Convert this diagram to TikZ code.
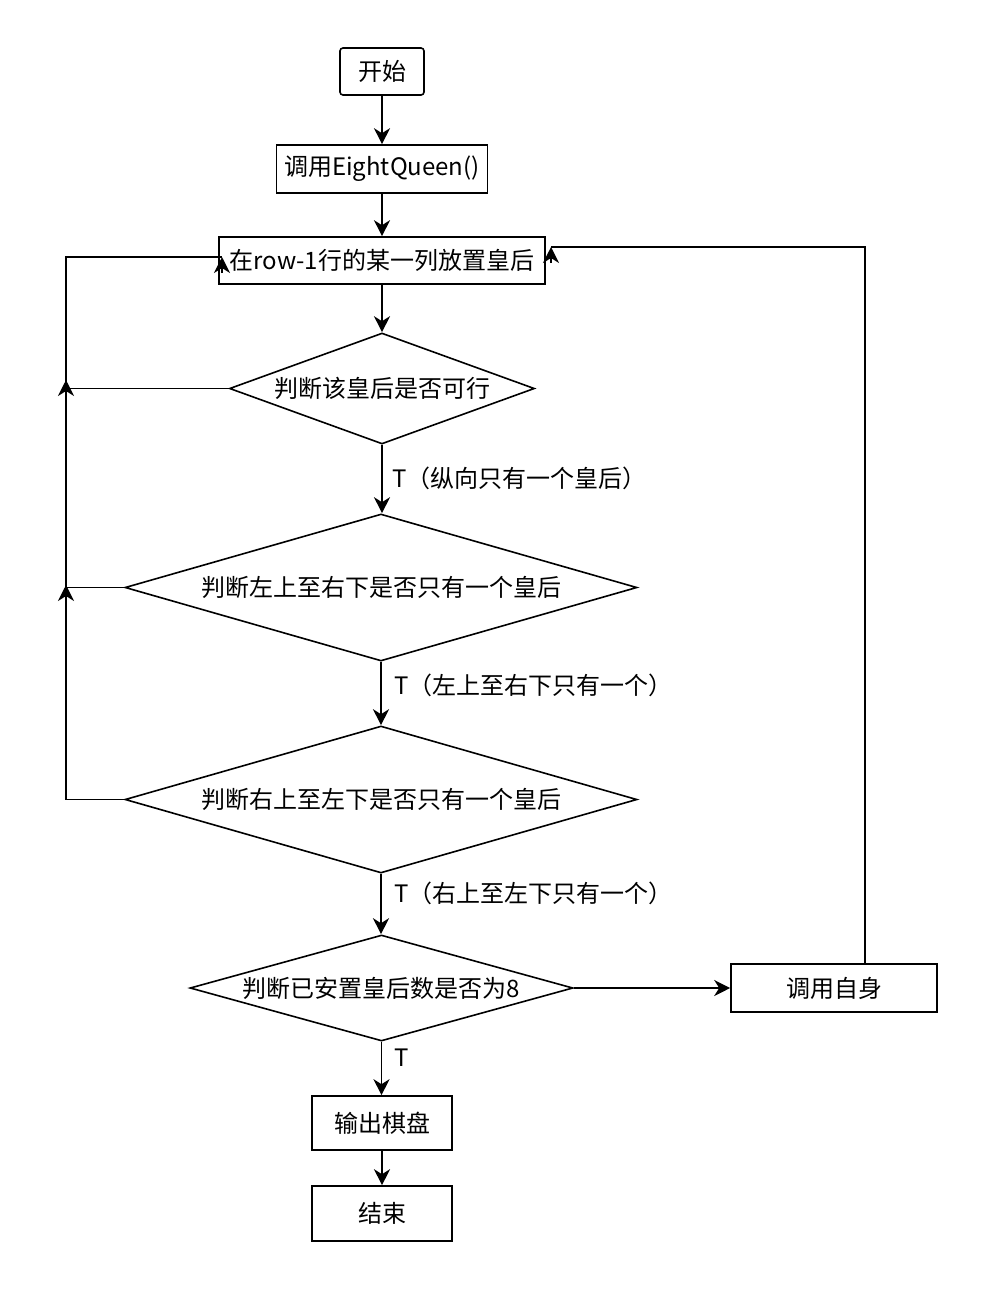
\documentclass[tikz,border=0pt]{standalone}
\usepackage{fontspec}
\setmainfont{Noto Sans CJK SC}
\usetikzlibrary{shapes.geometric,arrows.meta}
\begin{document}
\begin{tikzpicture}[x=1pt,y=-1pt,
 every node/.style={font=\fontsize{24}{28}\selectfont},
 box/.style={draw,line width=1.6pt,inner sep=0pt,align=center},
 dia/.style={draw,diamond,line width=1.6pt,inner sep=0pt},
 conn/.style={line width=1.6pt},
 arr/.style={line width=1.6pt,-{Stealth[length=16pt,width=16pt,inset=5pt]}},
 lbl/.style={anchor=west,inner sep=0pt}]
\useasboundingbox[fill=white] (0,0) rectangle (988,1294);

\node[box,rounded corners=3pt,minimum width=84pt,minimum height=47pt] (start) at (382,71.5) {开始};
\node[box,minimum width=211pt,minimum height=48pt] (call) at (382,169) {调用EightQueen()};
\node[box,minimum width=326pt,minimum height=47pt] (place) at (382,260.5) {在row-1行的某一列放置皇后};
\node[dia,minimum width=305pt,minimum height=111pt,aspect=2.75] (d1) at (382,388.5) {判断该皇后是否可行};
\node[dia,minimum width=512pt,minimum height=147pt,aspect=3.48] (d2) at (381,587.5) {判断左上至右下是否只有一个皇后};
\node[dia,minimum width=512pt,minimum height=147pt,aspect=3.48] (d3) at (381,799.5) {判断右上至左下是否只有一个皇后};
\node[dia,minimum width=383pt,minimum height=106pt,aspect=3.6] (d4) at (381.5,988) {判断已安置皇后数是否为8};
\node[box,minimum width=206pt,minimum height=48pt] (self) at (834,988) {调用自身};
\node[box,minimum width=140pt,minimum height=54pt] (out) at (382,1123) {输出棋盘};
\node[box,minimum width=140pt,minimum height=55pt] (end) at (382,1213.5) {结束};

% main vertical flow
\draw[arr] (start.south) -- (start.south |- call.north);
\draw[arr] (call.south) -- (call.south |- place.north);
\draw[arr] (place.south) -- (place.south |- d1.north);
\draw[arr] (d1.south) -- (d1.south |- d2.north);
\draw[arr] (d2.south) -- (d2.south |- d3.north);
\draw[arr] (d3.south) -- (d3.south |- d4.north);
\draw[arr] (d4.south) -- (d4.south |- out.north);
\draw[arr] (out.south) -- (out.south |- end.north);
\draw[arr] (d4.east) -- (self.west);

% labels
\node[lbl] (l1) at (392,478) {T（纵向只有一个皇后）};
\node[lbl] (l2) at (394,685) {T（左上至右下只有一个）};
\node[lbl] (l3) at (394,893) {T（右上至左下只有一个）};
\node[lbl] (l4) at (394,1058) {T};

% left loop back
\coordinate (lk1) at (66,388.5);
\coordinate (lk2) at (66,587.5);
\coordinate (lk3) at (66,799.5);
\coordinate (ltop) at (66,257);
\coordinate (lend) at (222,257);
\coordinate (lendb) at (222,273);
\coordinate (a1) at (66,380);
\coordinate (a2) at (66,585);
\draw[conn] (d1.west) -- (lk1) -- (ltop) -- (lend);
\draw[arr] (lendb) -- (lend);
\draw[arr] (d2.west) -- (lk2) -- (a1);
\draw[arr] (d3.west) -- (lk3) -- (a2);

% right loop back
\coordinate (rtop) at (865,247);
\coordinate (rend) at (551,247);
\coordinate (rendb) at (551,263);
\draw[conn] (self.north -| rtop) -- (rtop) -- (rend);
\draw[arr] (rendb) -- (rend);
\end{tikzpicture}
\end{document}
